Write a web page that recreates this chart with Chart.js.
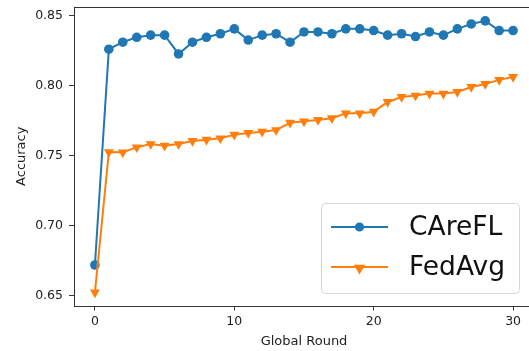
<!DOCTYPE html>
<html>
<head>
<meta charset="utf-8">
<script src="https://cdn.jsdelivr.net/npm/chart.js@4/dist/chart.umd.min.js"></script>
<style>
  html, body { margin: 0; padding: 0; background: #fff; overflow: hidden; width: 529px; height: 351px; }
  #wrap { position: relative; width: 545px; height: 351px; }
</style>
</head>
<body>
<div id="wrap"><canvas id="c" width="545" height="351"></canvas></div>
<script>
// Global rounds and test accuracy per method
const rounds = [0, 1, 2, 3, 4, 5, 6, 7, 8, 9, 10, 11, 12, 13, 14, 15,
                16, 17, 18, 19, 20, 21, 22, 23, 24, 25, 26, 27, 28, 29, 30];
const careflAcc = [0.672, 0.826, 0.831, 0.8345, 0.836, 0.836, 0.8226, 0.831, 0.8345, 0.837, 0.8405,
                   0.8325, 0.836, 0.837, 0.831, 0.8383, 0.8383, 0.837, 0.8405, 0.8405, 0.8393,
                   0.836, 0.837, 0.835, 0.8383, 0.836, 0.8405, 0.844, 0.8462, 0.8393, 0.8393];
const fedavgAcc = [0.6524, 0.7526, 0.7524, 0.756, 0.7583, 0.7571, 0.7583, 0.7605, 0.7614, 0.7624, 0.765,
                   0.7662, 0.7671, 0.7683, 0.7735, 0.7745, 0.7755, 0.7767, 0.7802, 0.7802, 0.7814,
                   0.7883, 0.7919, 0.7929, 0.7943, 0.7943, 0.7955, 0.799, 0.8012, 0.8041, 0.8062];
const seriesNames = ['CAreFL', 'FedAvg'];
const xTickValues = [0, 10, 20, 30];
const yTickValues = [0.65, 0.70, 0.75, 0.80, 0.85];

const BLUE = '#1f77b4';
const ORANGE = '#ff7f0e';
const SPINE = '#333';
const FONT = '"DejaVu Sans", "Liberation Sans", sans-serif';

const toPoints = vals => rounds.map((r, i) => ({ x: r, y: vals[i] }));

// Drop the automatic label overhang so the plot area follows the layout padding only
const noOverhang = s => { s.paddingTop = 0; s.paddingBottom = 0; s.paddingLeft = 0; s.paddingRight = 0; };

// Box around the plotting area, drawn above the lines
const framePlugin = {
  id: 'frame',
  afterDatasetsDraw(chart) {
    const { ctx, chartArea: a } = chart;
    ctx.save();
    ctx.strokeStyle = SPINE;
    ctx.lineWidth = 1;
    ctx.strokeRect(Math.round(a.left) + 0.5, Math.round(a.top) + 0.5,
                   Math.round(a.right - a.left), Math.round(a.bottom - a.top));
    ctx.restore();
  }
};

// Legend with a line through each marker, placed in the lower right
const lineLegendPlugin = {
  id: 'lineLegend',
  afterDraw(chart) {
    const { ctx, chartArea: a } = chart;
    const box = { x: 321, w: 198, h: 90 };
    box.y = a.bottom - 12.5 - box.h;
    ctx.save();
    ctx.fillStyle = 'rgba(255,255,255,0.8)';
    ctx.strokeStyle = '#d6d6d6';
    ctx.lineWidth = 1;
    ctx.beginPath();
    if (ctx.roundRect) ctx.roundRect(box.x + 0.5, box.y + 0.5, box.w, box.h, 4);
    else ctx.rect(box.x + 0.5, box.y + 0.5, box.w, box.h);
    ctx.fill();
    ctx.stroke();

    chart.data.datasets.forEach((ds, i) => {
      const cy = box.y + 24 + i * 40;
      const x0 = box.x + 10, x1 = box.x + 67, xm = (x0 + x1) / 2;
      ctx.strokeStyle = ds.borderColor;
      ctx.lineWidth = 2;
      ctx.beginPath();
      ctx.moveTo(x0, cy);
      ctx.lineTo(x1, cy);
      ctx.stroke();
      ctx.fillStyle = ds.borderColor;
      ctx.strokeStyle = ds.borderColor;
      Chart.helpers.drawPoint(ctx, {
        pointStyle: ds.pointStyle,
        rotation: ds.pointRotation || 0,
        radius: ds.pointStyle === 'triangle' ? 4.6 : 3.6,
        borderWidth: 1
      }, xm, cy + (ds.pointStyle === 'triangle' ? 1 : 0));
      ctx.fillStyle = '#111';
      ctx.font = '26.5px ' + FONT;
      ctx.textAlign = 'left';
      ctx.textBaseline = 'middle';
      ctx.fillText(ds.label, box.x + 88, cy + 1);
    });
    ctx.restore();
  }
};

new Chart(document.getElementById('c'), {
  type: 'line',
  data: {
    datasets: [
      {
        label: seriesNames[0],
        data: toPoints(careflAcc),
        borderColor: BLUE,
        backgroundColor: BLUE,
        borderWidth: 2,
        pointStyle: 'circle',
        pointRadius: 4.8,
        pointBorderWidth: 0,
        pointHoverRadius: 4.8,
        tension: 0,
        order: 1
      },
      {
        label: seriesNames[1],
        data: toPoints(fedavgAcc),
        borderColor: ORANGE,
        backgroundColor: ORANGE,
        borderWidth: 2,
        pointStyle: 'triangle',
        pointRotation: 180,
        pointRadius: 5.8,
        pointBorderWidth: 0,
        pointHoverRadius: 5.8,
        tension: 0,
        order: 0
      }
    ]
  },
  options: {
    responsive: false,
    animation: false,
    events: [],
    layout: { padding: { left: 0, right: 11, top: 7, bottom: 0 } },
    plugins: {
      legend: { display: false },
      tooltip: { enabled: false }
    },
    scales: {
      x: {
        type: 'linear',
        min: -1.5,
        max: 31.5,
        afterBuildTicks: s => { s.ticks = xTickValues.map(v => ({ value: v })); },
        afterFit: s => { s.height = 45.5; noOverhang(s); },
        grid: { display: true, drawOnChartArea: false, drawTicks: true, tickLength: 5, tickColor: SPINE, tickWidth: 1 },
        border: { display: false },
        ticks: { color: '#222', font: { family: FONT, size: 12.5 }, padding: 4, maxRotation: 0 },
        title: { display: true, text: 'Global Round', color: '#222', font: { family: FONT, size: 13 }, padding: { top: 0, bottom: 1.5 } }
      },
      y: {
        type: 'linear',
        min: 0.6431,
        max: 0.8561,
        afterBuildTicks: s => { s.ticks = yTickValues.map(v => ({ value: v })); },
        afterFit: s => { s.width = 74; noOverhang(s); },
        grid: { display: true, drawOnChartArea: false, drawTicks: true, tickLength: 5, tickColor: SPINE, tickWidth: 1 },
        border: { display: false },
        ticks: { color: '#222', font: { family: FONT, size: 12.5 }, padding: 6, callback: v => v.toFixed(2) },
        title: { display: true, text: 'Accuracy', color: '#222', font: { family: FONT, size: 13 }, padding: { top: 14, bottom: 0 } }
      }
    }
  },
  plugins: [framePlugin, lineLegendPlugin]
});
</script>
</body>
</html>
